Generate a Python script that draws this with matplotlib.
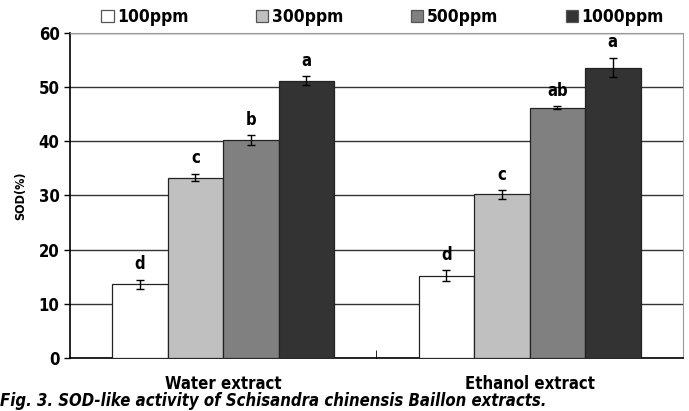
import numpy as np
import matplotlib.pyplot as plt

# SOD-like activity of extracts at four concentrations
groups = ["Water extract", "Ethanol extract"]
doses = ["100ppm", "300ppm", "500ppm", "1000ppm"]
water = [13.6, 33.3, 40.2, 51.2]
water_err = [0.8, 0.7, 0.9, 0.8]
ethanol = [15.2, 30.2, 46.2, 53.6]
ethanol_err = [1.0, 0.8, 0.3, 1.8]
water_sig = ["d", "c", "b", "a"]
ethanol_sig = ["d", "c", "ab", "a"]

colors = ["white", "#c0c0c0", "#808080", "#333333"]
plt.rcParams['font.family'] = ['DejaVu Sans']
plt.rcParams['font.stretch'] = 'condensed'
plt.rcParams['font.weight'] = 'bold'

fig = plt.figure(figsize=(6.89, 4.11), dpi=100)
ax = fig.add_axes([0.1016, 0.129, 0.8894, 0.7907])

vals = np.array([water, ethanol])
errs = np.array([water_err, ethanol_err])
sigs = [water_sig, ethanol_sig]
x = np.arange(len(groups))
w = 0.181

for i, d in enumerate(doses):
    pos = x + (i - 1.5) * w
    ax.bar(pos, vals[:, i], w, color=colors[i], edgecolor='#222222', lw=0.9,
           label=d, zorder=3)
    ax.errorbar(pos, vals[:, i], yerr=errs[:, i], fmt='none', ecolor='black',
                elinewidth=1.0, capsize=3, capthick=1.0, zorder=4)
    for j in range(len(groups)):
        ax.text(pos[j], vals[j, i] + errs[j, i] + 1.2, sigs[j][i],
                ha='center', va='bottom', fontsize=12, fontweight='bold')

ax.set_xlim(-0.5, 1.5)
ax.set_ylim(0, 60)
ax.set_yticks(range(0, 61, 10))
ax.yaxis.grid(True, color='#333333', lw=1.0, zorder=0)
ax.set_axisbelow(True)
ax.set_xticks(x)
ax.set_xticklabels(groups, fontsize=12, fontweight='bold')
ax.tick_params(axis='x', length=0, pad=12)
ax.set_xticks([0.5], minor=True)
ax.tick_params(axis='x', which='minor', direction='in', length=6, color='black')
ax.tick_params(axis='y', length=4, labelsize=12, width=1)
for lab in ax.get_yticklabels():
    lab.set_fontweight('bold')
ax.set_ylabel("SOD(%)", fontsize=9, fontweight='bold', labelpad=8)

ax.spines['left'].set_color('black')
ax.spines['left'].set_linewidth(1.2)
ax.spines['bottom'].set_color('black')
ax.spines['bottom'].set_linewidth(1.2)
ax.spines['top'].set_color('#999999')
ax.spines['right'].set_color('#999999')

leg = ax.legend(loc='lower center', bbox_to_anchor=(0.51, 0.995), ncol=4, frameon=False,
                fontsize=12.5, handlelength=0.7, handleheight=0.7, handletextpad=0.2,
                columnspacing=3.9, borderaxespad=0.1)
for h in leg.legend_handles:
    h.set_edgecolor('#555555')

fig.text(0.0, 0.002, "Fig. 3. SOD-like activity of Schisandra chinensis Baillon extracts.",
         fontsize=12, fontweight='bold', style='italic', va='bottom', ha='left')

fig.savefig("out.png", dpi=100)
